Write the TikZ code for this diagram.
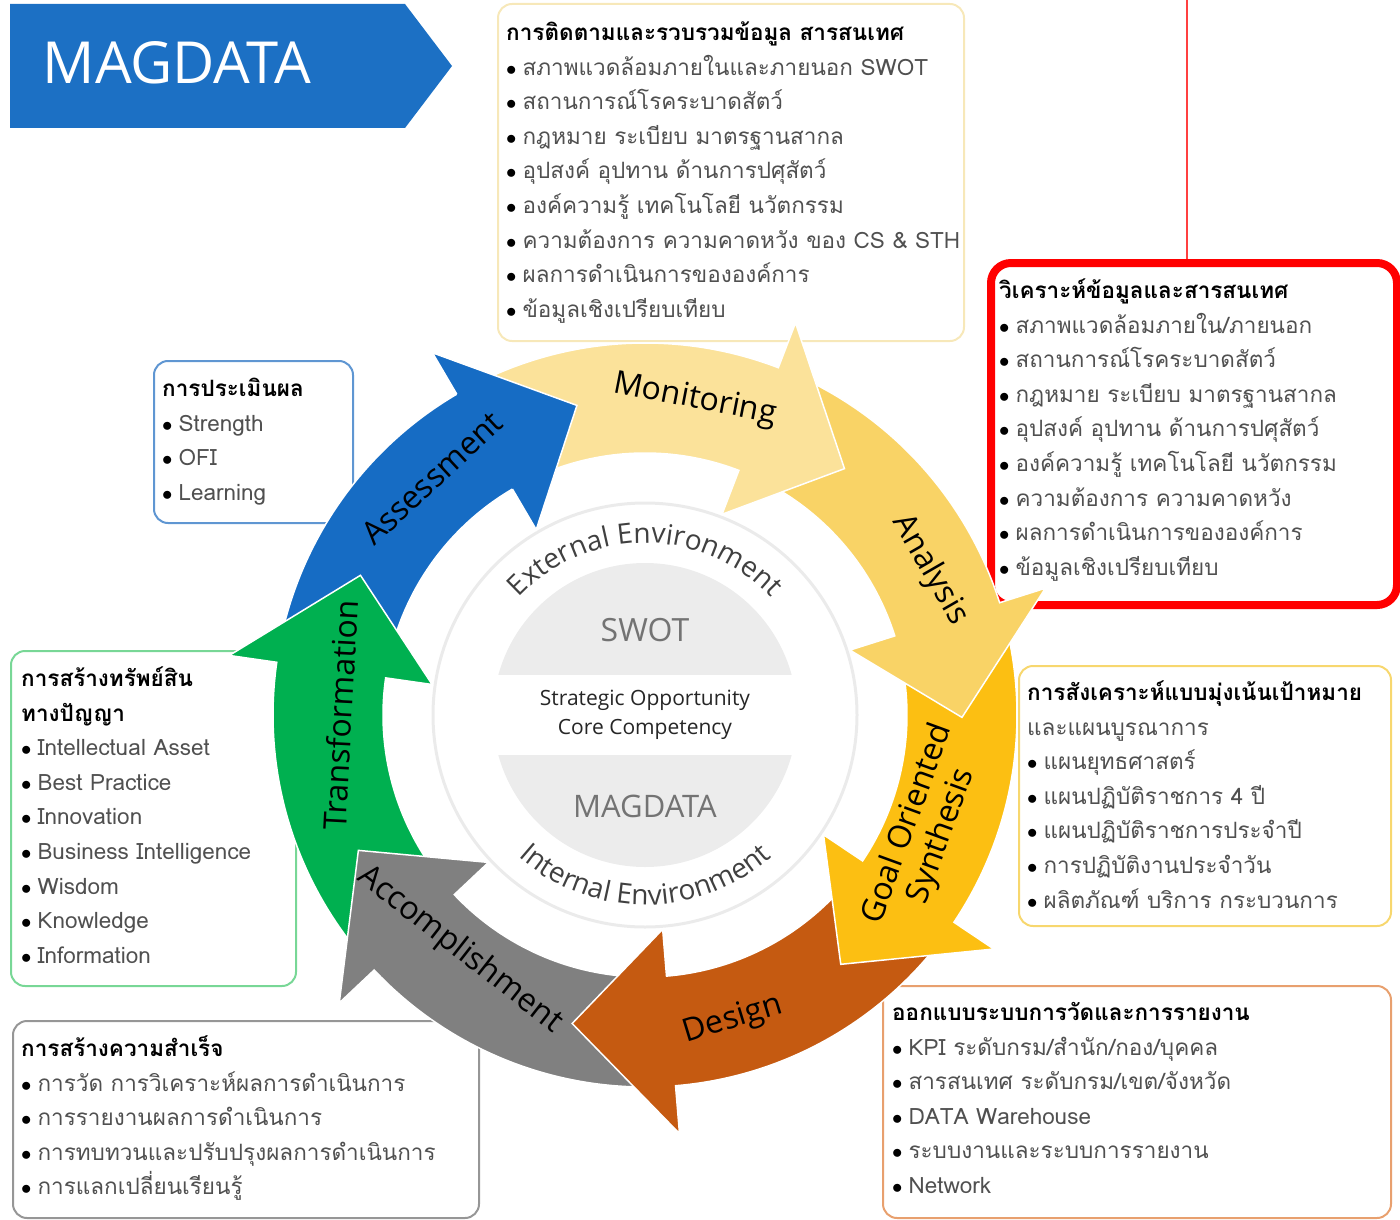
\documentclass[tikz,border=0pt]{standalone}
\usepackage{fontspec}
\setmainfont{Open Sans}
\newfontfamily\thai[Script=Thai]{Loma}
\usetikzlibrary{decorations.text}

\definecolor{monYellow}{RGB}{251,226,154}
\definecolor{anaYellow}{RGB}{249,211,102}
\definecolor{goalGold}{RGB}{252,191,18}
\definecolor{desOrange}{RGB}{197,90,17}
\definecolor{accGray}{RGB}{128,128,128}
\definecolor{traGreen}{RGB}{0,176,80}
\definecolor{assBlue}{RGB}{22,108,196}
\definecolor{bannerBlue}{RGB}{28,112,196}
\definecolor{itemGray}{RGB}{80,80,80}
\definecolor{discGray}{RGB}{236,236,236}
\definecolor{topFrame}{RGB}{247,232,185}
\definecolor{assFrame}{RGB}{95,150,210}
\definecolor{traFrame}{RGB}{120,215,150}
\definecolor{goalFrame}{RGB}{247,215,110}
\definecolor{accFrame}{RGB}{150,150,150}
\definecolor{desFrame}{RGB}{232,160,110}

\tikzset{
  infobox/.style={draw, rounded corners=14pt, line width=2pt, anchor=north west, inner sep=0pt},
  boxtext/.style={anchor=north west, inner sep=0pt, align=left, text=itemGray,
    font=\thai\fontsize{22.5}{34.6}\selectfont},
  cyclabel/.style={font=\fontsize{32}{32}\selectfont, text=black, align=center},
}

% title line and bullet line of a box
\newcommand{\ttl}[1]{\strut\textbf{\color{black}#1}}
\newcommand{\itm}[1]{\strut{\color{black}$\bullet$}\hspace{6pt}#1}

% curved arrow of the cycle, centred on angle #1
\newcommand{\cycarrow}[2]{%
  \pgfmathsetmacro{\ta}{#1+33}\pgfmathsetmacro{\ha}{#1-12}\pgfmathsetmacro{\pa}{#1-30}%
  \filldraw[fill=#2, draw=white, line width=1.5pt]
    (\ta:372) arc[start angle=\ta, end angle=\ha, radius=372] -- (\ha:420) -- (\pa:317)
    -- (\ha:215) -- (\ha:262) arc[start angle=\ha, end angle=\ta, radius=262] -- cycle;}
\newcommand{\cychead}[2]{%
  \pgfmathsetmacro{\ha}{#1-12}\pgfmathsetmacro{\pa}{#1-30}%
  \fill[#2] (\ha:420) -- (\pa:317) -- (\ha:215) -- cycle;
  \draw[white, line width=1.5pt] (\ha:372) -- (\ha:420) -- (\pa:317) -- (\ha:215) -- (\ha:262);}

\begin{document}
\begin{tikzpicture}[x=1pt, y=1pt]
\useasboundingbox (0,0) rectangle (1400,-1220);

% banner
\fill[bannerBlue] (10,-4) -- (405,-4) -- (452,-66) -- (405,-128) -- (10,-128) -- cycle;
\node[text=white, font=\fontsize{58}{58}\selectfont] (banner) at (177,-63) {MAGDATA};

% frames
\node[infobox, draw=topFrame, minimum width=466pt, minimum height=337pt] (monBox) at (497,-3) {};
\node[infobox, draw=red, line width=8pt, rounded corners=20pt, minimum width=406pt, minimum height=342pt] (anaBox) at (987,-259) {};
\node[infobox, draw=assFrame, minimum width=199pt, minimum height=162pt] (assBox) at (153,-360) {};
\node[infobox, draw=traFrame, minimum width=285pt, minimum height=335pt] (traBox) at (10,-650) {};
\node[infobox, draw=goalFrame, minimum width=372pt, minimum height=260pt] (goalBox) at (1018,-665) {};
\node[infobox, draw=accFrame, minimum width=466pt, minimum height=197pt] (accBox) at (12,-1020) {};
\node[infobox, draw=desFrame, minimum width=508pt, minimum height=232pt] (desBox) at (882,-985) {};

\coordinate (redTop) at (1187,0);
\draw[red!75, line width=1.5pt] (redTop) -- (redTop |- anaBox.north);

% texts of the frames
\node[boxtext] (monText) at (506,-16) {\ttl{การติดตามและรวบรวมข้อมูล สารสนเทศ}\\
  \itm{สภาพแวดล้อมภายในและภายนอก SWOT}\\ \itm{สถานการณ์โรคระบาดสัตว์}\\
  \itm{กฎหมาย ระเบียบ มาตรฐานสากล}\\ \itm{อุปสงค์ อุปทาน ด้านการปศุสัตว์}\\
  \itm{องค์ความรู้ เทคโนโลยี นวัตกรรม}\\ \itm{ความต้องการ ความคาดหวัง ของ CS \& STH}\\
  \itm{ผลการดำเนินการขององค์การ}\\ \itm{ข้อมูลเชิงเปรียบเทียบ}};
\node[boxtext] (anaText) at (999,-274) {\ttl{วิเคราะห์ข้อมูลและสารสนเทศ}\\
  \itm{สภาพแวดล้อมภายใน/ภายนอก}\\ \itm{สถานการณ์โรคระบาดสัตว์}\\
  \itm{กฎหมาย ระเบียบ มาตรฐานสากล}\\ \itm{อุปสงค์ อุปทาน ด้านการปศุสัตว์}\\
  \itm{องค์ความรู้ เทคโนโลยี นวัตกรรม}\\ \itm{ความต้องการ ความคาดหวัง}\\
  \itm{ผลการดำเนินการขององค์การ}\\ \itm{ข้อมูลเชิงเปรียบเทียบ}};
\node[boxtext] (assText) at (162,-372) {\ttl{การประเมินผล}\\
  \itm{Strength}\\ \itm{OFI}\\ \itm{Learning}};
\node[boxtext] (traText) at (21,-662) {\ttl{การสร้างทรัพย์สิน}\\ \ttl{ทางปัญญา}\\
  \itm{Intellectual Asset}\\ \itm{Best Practice}\\ \itm{Innovation}\\
  \itm{Business Intelligence}\\ \itm{Wisdom}\\ \itm{Knowledge}\\ \itm{Information}};
\node[boxtext] (goalText) at (1027,-676) {\ttl{การสังเคราะห์แบบมุ่งเน้นเป้าหมาย}\\
  \strut และแผนบูรณาการ\\ \itm{แผนยุทธศาสตร์}\\ \itm{แผนปฏิบัติราชการ 4 ปี}\\
  \itm{แผนปฏิบัติราชการประจำปี}\\ \itm{การปฏิบัติงานประจำวัน}\\
  \itm{ผลิตภัณฑ์ บริการ กระบวนการ}};
\node[boxtext] (accText) at (21,-1032) {\ttl{การสร้างความสำเร็จ}\\
  \itm{การวัด การวิเคราะห์ผลการดำเนินการ}\\ \itm{การรายงานผลการดำเนินการ}\\
  \itm{การทบทวนและปรับปรุงผลการดำเนินการ}\\ \itm{การแลกเปลี่ยนเรียนรู้}};
\node[boxtext] (desText) at (892,-996) {\ttl{ออกแบบระบบการวัดและการรายงาน}\\
  \itm{KPI ระดับกรม/สำนัก/กอง/บุคคล}\\ \itm{สารสนเทศ ระดับกรม/เขต/จังหวัด}\\
  \itm{DATA Warehouse}\\ \itm{ระบบงานและระบบการรายงาน}\\ \itm{Network}};

% centre
\draw[black!8, line width=3pt] (645,-715) circle[radius=212];
\fill[discGray] (645,-715) circle[radius=152];
\fill[white] (480,-675) rectangle (810,-755);
\node[text=black!55, font=\fontsize{32}{32}\selectfont] (swot) at (645,-630) {SWOT};
\node[text=black!55, font=\fontsize{31}{31}\selectfont] (magdata) at (645,-806) {MAGDATA};
\node[text=black!85, font=\fontsize{21}{29}\selectfont, align=center] (core) at (645,-715)
  {Strategic Opportunity\\ Core Competency};
\path[decorate, decoration={text along path, text align=center,
  text={|\fontsize{28}{28}\selectfont\color{black!75}|External Environment}}]
  (645,-715) ++(160:172) arc[start angle=160, end angle=20, radius=172];
\path[decorate, decoration={text along path, text align=center,
  text={|\fontsize{28}{28}\selectfont\color{black!75}|Internal Environment}}]
  (645,-715) ++(205:190) arc[start angle=205, end angle=335, radius=190];

% cycle of arrows
\begin{scope}[shift={(645,-715)}]
  \foreach \col [count=\i from 0] in {assBlue, traGreen, accGray, desOrange, goalGold, anaYellow, monYellow}
    \cycarrow{81-51.43*(6-\i)}{\col};
  \cychead{132.4}{assBlue}
\end{scope}

\node[cyclabel, rotate=-11] (lblMon) at (695,-400) {Monitoring};
\node[cyclabel, rotate=-60] (lblAna) at (930,-570) {Analysis};
\node[cyclabel, rotate=70, font=\fontsize{32}{36}\selectfont] (lblGoal) at (925,-830) {Goal Oriented\\ Synthesis};
\node[cyclabel, rotate=17] (lblDes) at (733,-1020) {Design};
\node[cyclabel, rotate=-38] (lblAcc) at (460,-950) {Accomplishment};
\node[cyclabel, rotate=87] (lblTra) at (340,-715) {Transformation};
\node[cyclabel, rotate=43] (lblAss) at (432,-478) {Assessment};
\end{tikzpicture}
\end{document}
